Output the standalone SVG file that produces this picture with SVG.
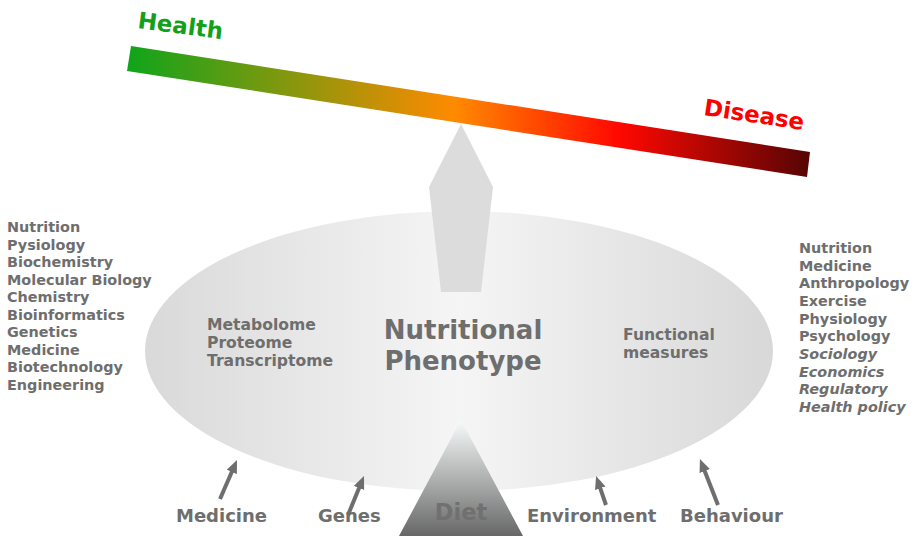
<svg xmlns="http://www.w3.org/2000/svg" width="914" height="536" viewBox="0 0 914 536">
  <defs>
    <linearGradient id="scaleGrad" gradientUnits="userSpaceOnUse" x1="127" y1="0" x2="810" y2="0">
      <stop offset="0" stop-color="#0fa41b"/>
      <stop offset="0.48" stop-color="#ff8a00"/>
      <stop offset="0.72" stop-color="#ff0800"/>
      <stop offset="1" stop-color="#560505"/>
    </linearGradient>
    <linearGradient id="ovalGrad" x1="0" y1="0" x2="1" y2="0">
      <stop offset="0" stop-color="#d9d9d9"/>
      <stop offset="0.5" stop-color="#f5f5f5"/>
      <stop offset="1" stop-color="#d8d8d8"/>
    </linearGradient>
    <linearGradient id="dietGrad" gradientUnits="userSpaceOnUse" x1="0" y1="420" x2="0" y2="536">
      <stop offset="0" stop-color="#f8fbfb"/>
      <stop offset="1" stop-color="#676767"/>
    </linearGradient>
    <marker id="head" markerUnits="userSpaceOnUse" markerWidth="14" markerHeight="12" refX="3" refY="5.5" orient="auto">
      <path d="M0,0 L13,5.5 L0,11 z" fill="#6e6e6e"/>
    </marker>
    <style>
      text { font-family: "DejaVu Sans", Verdana, sans-serif; font-weight: bold; fill: #6e6e6e; }
      .list { font-size: 14.4px; }
      .inner { font-size: 15.6px; }
      .title { font-size: 26px; }
      .factor { font-size: 18px; }
      .it { font-style: italic; }
      .arrow { stroke: #6e6e6e; stroke-width: 4; fill: none; marker-end: url(#head); }
    </style>
  </defs>

  <!-- health / disease balance beam -->
  <g id="beam">
    <polygon points="131,46 810,152 807,177 127,71" fill="url(#scaleGrad)"/>
    <text x="137" y="28" font-size="23" style="fill:#13a01a" transform="rotate(7.5 137 28)">Health</text>
    <text x="703" y="115" font-size="23" style="fill:#ff0000" transform="rotate(8.5 703 115)">Disease</text>
  </g>

  <!-- central phenotype oval -->
  <g id="phenotype">
    <ellipse cx="459" cy="351" rx="314" ry="140" fill="url(#ovalGrad)"/>
  </g>

  <!-- fulcrum -->
  <g id="fulcrum">
    <polygon points="461,124 493,187 481,292 441,292 429,187" fill="#dcdcdc"/>
  </g>

  <g id="phenotype-labels">
    <text class="title" x="463" y="339" text-anchor="middle">Nutritional</text>
    <text class="title" x="463" y="370" text-anchor="middle">Phenotype</text>
    <text class="inner" x="207" y="330">Metabolome</text>
    <text class="inner" x="207" y="348">Proteome</text>
    <text class="inner" x="207" y="366">Transcriptome</text>
    <text class="inner" x="623" y="340">Functional</text>
    <text class="inner" x="623" y="358">measures</text>
  </g>

  <!-- diet base -->
  <g id="diet">
    <polygon points="461,420 523,536 399,536" fill="url(#dietGrad)"/>
    <text x="461" y="520" font-size="22.5" text-anchor="middle" style="fill:#707070">Diet</text>
  </g>

  <!-- disciplines, left -->
  <g id="disciplines-left" class="list">
    <text class="list" x="7" y="232">Nutrition</text>
    <text class="list" x="7" y="249.5">Pysiology</text>
    <text class="list" x="7" y="267">Biochemistry</text>
    <text class="list" x="7" y="284.5">Molecular Biology</text>
    <text class="list" x="7" y="302">Chemistry</text>
    <text class="list" x="7" y="319.5">Bioinformatics</text>
    <text class="list" x="7" y="337">Genetics</text>
    <text class="list" x="7" y="354.5">Medicine</text>
    <text class="list" x="7" y="372">Biotechnology</text>
    <text class="list" x="7" y="389.5">Engineering</text>
  </g>

  <!-- disciplines, right -->
  <g id="disciplines-right">
    <text class="list" x="799" y="253">Nutrition</text>
    <text class="list" x="799" y="270.7">Medicine</text>
    <text class="list" x="799" y="288.3">Anthropology</text>
    <text class="list" x="799" y="306">Exercise</text>
    <text class="list" x="799" y="323.6">Physiology</text>
    <text class="list" x="799" y="341.3">Psychology</text>
    <text class="list it" x="799" y="359">Sociology</text>
    <text class="list it" x="799" y="376.6">Economics</text>
    <text class="list it" x="799" y="394.3">Regulatory</text>
    <text class="list it" x="799" y="412">Health policy</text>
  </g>

  <!-- influencing factors -->
  <g id="factor-medicine"><text class="factor" x="176" y="522">Medicine</text></g>
  <g id="factor-genes"><text class="factor" x="318" y="522">Genes</text></g>
  <g id="factor-environment"><text class="factor" x="527" y="522">Environment</text></g>
  <g id="factor-behaviour"><text class="factor" x="680" y="522">Behaviour</text></g>

  <g id="connectors">
    <line class="arrow" x1="220" y1="499" x2="233" y2="469.2"/>
    <line class="arrow" x1="348" y1="515" x2="360.2" y2="485.2"/>
    <line class="arrow" x1="606" y1="505" x2="599.3" y2="485.4"/>
    <line class="arrow" x1="718" y1="505" x2="703.6" y2="468.3"/>
  </g>
</svg>
